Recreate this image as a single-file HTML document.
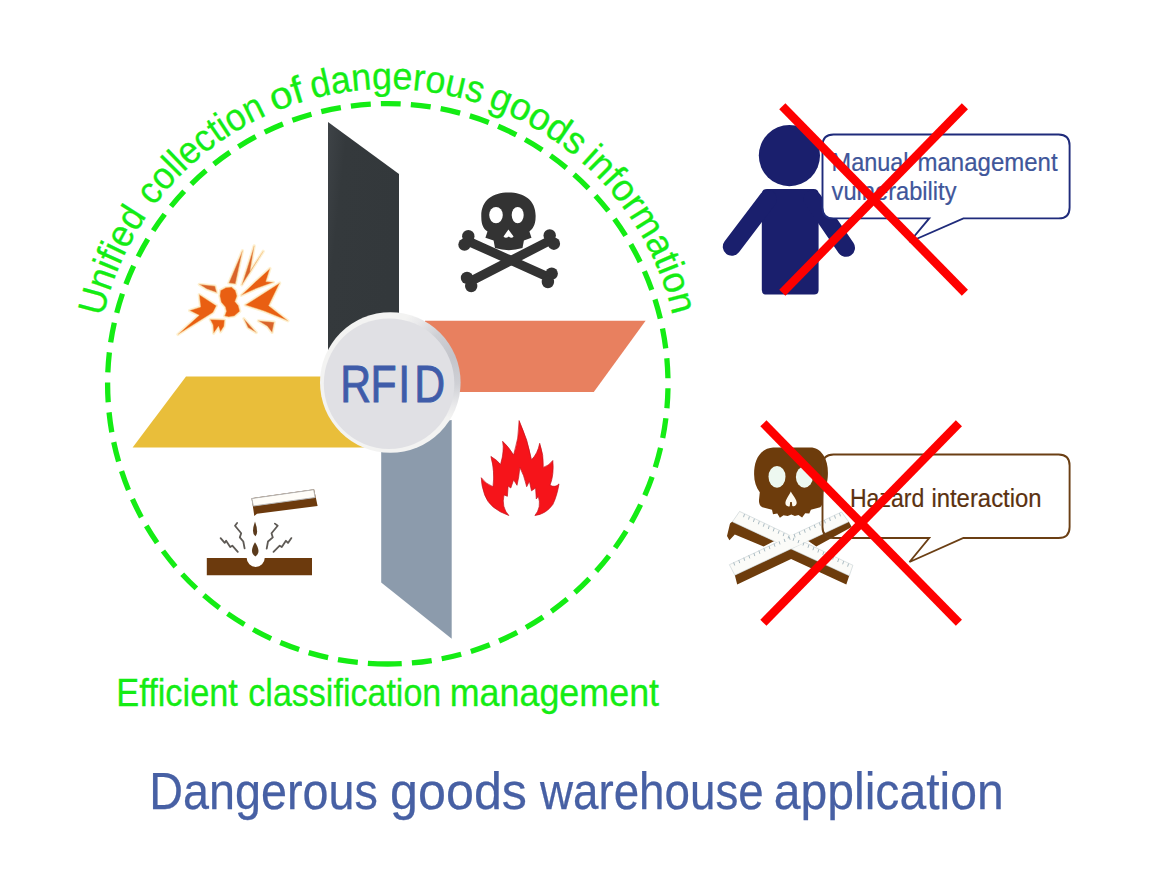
<!DOCTYPE html>
<html lang="en">
<head>
<meta charset="utf-8">
<title>Dangerous goods warehouse application</title>
<style>
html,body{margin:0;padding:0;background:#fff;}
body{width:1168px;height:872px;overflow:hidden;position:relative;font-family:"Liberation Sans",sans-serif;}
svg{position:absolute;left:0;top:0;display:block;}
text{font-family:"Liberation Sans",sans-serif;}
</style>
</head>
<body>
<svg width="1168" height="872" viewBox="0 0 1168 872">
<defs>
  <path id="arc" d="M 96.00 381.00 A 292.0 292.0 0 0 1 680.00 381.00"/>
  <radialGradient id="rf" cx="0.5" cy="0.5" r="0.5">
    <stop offset="0" stop-color="#e6e7e9"/>
    <stop offset="0.9" stop-color="#e1e2e4"/>
    <stop offset="1" stop-color="#d4d6d9"/>
  </radialGradient>
  <linearGradient id="gb" x1="0" y1="0" x2="1" y2="0.35">
    <stop offset="0" stop-color="#3e4347"/>
    <stop offset="0.25" stop-color="#34393c"/>
    <stop offset="1" stop-color="#33383b"/>
  </linearGradient>
  <radialGradient id="rim" gradientUnits="userSpaceOnUse" cx="455" cy="356" r="62">
    <stop offset="0" stop-color="#c3c4ca"/>
    <stop offset="0.45" stop-color="#cfd0d5"/>
    <stop offset="0.8" stop-color="#e9e9eb"/>
    <stop offset="1" stop-color="#f3f3f2"/>
  </radialGradient>
</defs>
<rect width="1168" height="872" fill="#fff"/>

<!-- dashed circle -->
<path id="ring" d="M 387.8 664 A 280.2 280.2 0 1 1 387.8 103.6 A 280.2 280.2 0 1 1 387.8 664" fill="none" stroke="#14ec14" stroke-width="5.3" stroke-dasharray="20 10.1"/>

<!-- blades -->
<polygon id="blade-black" points="328,122 399,174 399,345 328,350" fill="url(#gb)"/>
<polygon id="blade-orange" points="425,320.8 645.6,320.8 593.8,391.9 425,391.9" fill="#e8805f"/>
<polygon id="blade-yellow" points="186,376.5 340,376.5 370,447.6 132.6,447.6" fill="#e9be3a"/>
<polygon id="blade-grey" points="381.2,430 451.7,420 451.7,638.8 381.2,582.4" fill="#8c9bac"/>


<!-- explosion -->
<g id="explosion-glow" fill="#fdf0cf" stroke="#fdf0cf" stroke-width="3.2" stroke-linejoin="round" opacity="0.9">
  <polygon points="220.5,290.5 226.0,287.5 231.5,287.1 235.4,290.5 237.0,296.0 235.0,301.5 238.4,305.7 239.8,311.2 234.3,316.0 228.8,316.9 224.6,316.0 226.3,311.2 225.3,307.0 221.2,302.2 219.8,296.0"/>
  <polygon points="199.2,294.6 216.4,305.7 213.0,312.5 177.9,334.5 199.2,315.3 189.6,310.5 200.6,307.0"/>
  <polygon points="199.2,284.3 215.0,286.1 216.7,292.6 206.8,289.1"/>
  <polygon points="228.8,283.0 242.5,250.6 235.4,283.9"/>
  <polygon points="241.8,285.0 254.2,245.8 250.1,271.3 263.2,251.3 248.0,275.4"/>
  <polygon points="241.2,295.3 256.3,280.9 270.0,268.5 265.9,281.6 273.5,282.3 256.3,288.5"/>
  <polygon points="245.3,305.0 279.7,283.0 268.7,305.7 287.9,320.8 264.5,311.2"/>
  <polygon points="210.2,319.4 224.6,320.1 224.0,326.3 220.5,331.8 218.5,326.3 213.6,333.2 213.0,324.9"/>
  <polygon points="243.9,318.7 256.3,332.5 248.0,327.7"/>
  <polygon points="258.3,320.8 274.2,322.2 272.1,332.5 267.3,326.3"/>
</g>
<g id="explosion" fill="#e95f12" stroke="#f6c98a" stroke-width="0.5" stroke-linejoin="round">
  <polygon points="220.5,290.5 226.0,287.5 231.5,287.1 235.4,290.5 237.0,296.0 235.0,301.5 238.4,305.7 239.8,311.2 234.3,316.0 228.8,316.9 224.6,316.0 226.3,311.2 225.3,307.0 221.2,302.2 219.8,296.0"/>
  <polygon points="199.2,294.6 216.4,305.7 213.0,312.5 177.9,334.5 199.2,315.3 189.6,310.5 200.6,307.0"/>
  <polygon points="199.2,284.3 215.0,286.1 216.7,292.6 206.8,289.1" fill="#d9632a"/>
  <polygon points="228.8,283.0 242.5,250.6 235.4,283.9" fill="#d9632a"/>
  <polygon points="241.8,285.0 254.2,245.8 250.1,271.3 263.2,251.3 248.0,275.4" fill="#d9632a"/>
  <polygon points="241.2,295.3 256.3,280.9 270.0,268.5 265.9,281.6 273.5,282.3 256.3,288.5"/>
  <polygon points="245.3,305.0 279.7,283.0 268.7,305.7 287.9,320.8 264.5,311.2"/>
  <polygon points="210.2,319.4 224.6,320.1 224.0,326.3 220.5,331.8 218.5,326.3 213.6,333.2 213.0,324.9"/>
  <polygon points="243.9,318.7 256.3,332.5 248.0,327.7" fill="#d9632a"/>
  <polygon points="258.3,320.8 274.2,322.2 272.1,332.5 267.3,326.3" fill="#d9632a"/>
</g>

<!-- black skull -->
<g id="skull" fill="#333">
  <line x1="468.2" y1="241.2" x2="548.0" y2="277.0" stroke="#333" stroke-width="9.2" stroke-linecap="round"/><circle cx="468.3" cy="236.2" r="6.2" fill="#333"/><circle cx="464.5" cy="244.6" r="6.2" fill="#333"/><circle cx="551.7" cy="273.6" r="6.2" fill="#333"/><circle cx="547.9" cy="282.0" r="6.2" fill="#333"/>
  <line x1="550.0" y1="240.5" x2="470.9" y2="281.1" stroke="#333" stroke-width="9.2" stroke-linecap="round"/><circle cx="553.9" cy="243.7" r="6.2" fill="#333"/><circle cx="549.7" cy="235.5" r="6.2" fill="#333"/><circle cx="471.2" cy="286.1" r="6.2" fill="#333"/><circle cx="467.0" cy="277.9" r="6.2" fill="#333"/>
  <path d="M 481.3 217.1 C 480.6 200.6, 492.3 192.4, 508.4 192.4 C 524.6 192.4, 536.3 200.6, 535.6 217.1 C 535.6 225.4, 532.2 229.5, 529.4 231.6 L 531.5 237.8 L 523.9 240.5 L 522.5 248.1 Q 508.8 252.2 495.0 248.1 L 493.6 240.5 L 485.4 237.8 L 487.5 231.6 C 484.0 229.5, 481.3 225.4, 481.3 217.1 Z"/>
  <ellipse cx="496.0" cy="215.1" rx="6.8" ry="8.2" fill="#fff"/>
  <ellipse cx="517.7" cy="215.1" rx="6" ry="8.2" fill="#fff"/>
  <path d="M 508.4 229.5 L 513.6 236.4 Q 511.5 239.1 508.8 236.4 Q 505.7 239.1 503.5 236.4 Z" fill="#fff"/>
</g>

<!-- corrosion -->
<g id="corrosion">
  <path d="M 206.8 558 H 246.7 A 9 9 0 0 0 264.7 558 H 312 V 575.2 H 206.8 Z" fill="#6c3a0d"/>
  <polygon points="251.5,498.2 314.1,489.3 317.6,506.0 257.0,513.7 254.3,516.1 252.9,506.5" fill="#6c3a0d"/>
  <polygon points="251.8,498.5 313.7,489.7 315.2,497.5 253.3,506.0" fill="#fffdf8" stroke="#b8b8b8" stroke-width="1"/>
  <path d="M 255.0 521.6 Q 259.1 533.3 255.4 536.3 Q 250.8 533.3 255.0 521.6 Z" fill="#5a3a1c"/>
  <path d="M 255.0 542.2 Q 261.8 552.5 255.4 556.4 Q 248.8 552.5 255.0 542.2 Z" fill="#5a3a1c"/>
  <g fill="none" stroke="#5e5a55" stroke-width="1.8" stroke-linecap="round" stroke-linejoin="round">
    <polyline points="220.6,538.1 224.7,542.9 226.1,540.8 230.2,547.0 232.3,545.7 237.8,551.8"/>
    <polyline points="237.1,523.0 235.0,525.7 241.2,533.3 239.8,537.4 243.3,541.5 244.6,548.4"/>
    <polyline points="274.9,523.6 277.7,525.7 271.5,533.3 272.8,537.4 268.0,541.5 266.7,548.7"/>
    <polyline points="291.4,538.1 288.0,542.9 285.9,540.8 281.8,547.0 279.7,545.7 273.5,551.8"/>
  </g>
</g>

<!-- flame -->
<path id="flame" d="M 508.8 515.5 Q 489.5 508.7, 484.7 494.9 Q 481.3 485.3, 481.3 477.7 Q 485.4 483.9, 493.0 486.7 Q 495.0 471.5, 490.9 456.4 Q 497.8 460.5, 500.5 464.6 Q 504.6 450.9, 502.6 441.3 Q 508.8 446.8, 513.6 455.0 Q 519.1 438.5, 519.1 420.6 Q 528.0 439.9, 531.5 459.8 Q 537.7 453.6, 539.7 443.3 Q 543.9 455.0, 543.2 467.4 Q 548.7 466.0, 552.8 460.5 Q 554.2 474.3, 550.0 485.3 Q 555.5 488.0, 559.0 483.9 Q 556.9 496.3, 552.8 504.5 Q 545.9 514.2, 534.9 515.5 Q 541.8 507.3, 538.3 496.3 L 536.3 499.0 L 535.6 488.0 L 531.5 490.8 L 529.4 481.2 L 526.7 486.7 Q 523.9 474.3, 519.8 467.4 Q 519.1 477.0, 517.0 485.3 L 513.6 479.8 L 510.8 488.0 L 508.1 486.0 L 507.4 496.3 L 504.0 494.9 Q 501.2 507.3, 508.8 515.5 Z" fill="#f6141a" stroke="#c4121c" stroke-width="0.7" stroke-linejoin="round"/>

<!-- hub -->
<circle cx="390.3" cy="382.5" r="70.3" fill="url(#rim)"/>
<circle cx="389.1" cy="383.7" r="65.3" fill="#e0e0e4"/>
<text transform="translate(0,401.8) scale(0.83,1)" x="410 446.5 479.7 499.2" y="0" font-size="51.5" fill="#3f5ca9" stroke="#3f5ca9" stroke-width="0.9">RFID</text>

<!-- curved label -->
<g id="curved">
<text font-size="38" fill="#14ec14" stroke="#14ec14" stroke-width="0.3" textLength="110.6" lengthAdjust="spacingAndGlyphs"><textPath href="#arc" startOffset="64.7">Unified</textPath></text>
<text font-size="38" fill="#14ec14" stroke="#14ec14" stroke-width="0.3" textLength="146.8" lengthAdjust="spacingAndGlyphs"><textPath href="#arc" startOffset="187.0">collection</textPath></text>
<text font-size="38" fill="#14ec14" stroke="#14ec14" stroke-width="0.3" textLength="33.6" lengthAdjust="spacingAndGlyphs"><textPath href="#arc" startOffset="342.0">of</textPath></text>
<text font-size="38" fill="#14ec14" stroke="#14ec14" stroke-width="0.3" textLength="169.7" lengthAdjust="spacingAndGlyphs"><textPath href="#arc" startOffset="382.7">dangerous</textPath></text>
<text font-size="38" fill="#14ec14" stroke="#14ec14" stroke-width="0.3" textLength="101.9" lengthAdjust="spacingAndGlyphs"><textPath href="#arc" startOffset="559.6">goods</textPath></text>
<text font-size="38" fill="#14ec14" stroke="#14ec14" stroke-width="0.3" textLength="182.4" lengthAdjust="spacingAndGlyphs"><textPath href="#arc" startOffset="668.6">information</textPath></text>
</g>

<text id="t-eff" y="706" font-size="38.5" fill="#14ec14" stroke="#14ec14" stroke-width="0.3"><tspan x="116.3" textLength="121.6" lengthAdjust="spacingAndGlyphs">Efficient</tspan> <tspan x="248.3" textLength="193.0" lengthAdjust="spacingAndGlyphs">classification</tspan> <tspan x="449.7" textLength="209.4" lengthAdjust="spacingAndGlyphs">management</tspan></text>
<text id="t-title" y="809" font-size="52" fill="#4760a4" stroke="#4760a4" stroke-width="0.25"><tspan x="149.2" textLength="228.6" lengthAdjust="spacingAndGlyphs">Dangerous</tspan> <tspan x="390.1" textLength="136.9" lengthAdjust="spacingAndGlyphs">goods</tspan> <tspan x="539.9" textLength="223.9" lengthAdjust="spacingAndGlyphs">warehouse</tspan> <tspan x="773.7" textLength="230.0" lengthAdjust="spacingAndGlyphs">application</tspan></text>

<!-- person -->
<g id="person" fill="#1a1f6d">
  <circle cx="789.4" cy="155.6" r="30.6"/>
  <path d="M 767 189 H 813.5 Q 818.6 189 818.6 194 V 290 Q 818.6 294.5 814 294.5 H 766.5 Q 761.8 294.5 761.8 290 V 194 Q 761.8 189 767 189 Z"/>
  <line x1="768" y1="199" x2="731.8" y2="246.8" stroke="#1a1f6d" stroke-width="18" stroke-linecap="round"/>
  <line x1="812.5" y1="199" x2="846" y2="247.8" stroke="#1a1f6d" stroke-width="18" stroke-linecap="round"/>
</g>
<!-- bubble 1 -->
<path id="bubble1" d="M 833.5 134.5 H 1058.6 Q 1069.6 134.5 1069.6 145.5 V 207.4 Q 1069.6 218.4 1058.6 218.4 H 963.4 L 909.5 242 L 929.2 218.4 H 833.5 Q 822.5 218.4 822.5 207.4 V 145.5 Q 822.5 134.5 833.5 134.5 Z" fill="#fff" stroke="#1f2b7b" stroke-width="1.9" stroke-linejoin="miter"/>
<text id="t-b1a" y="170.8" font-size="25" fill="#40569a" stroke="#40569a" stroke-width="0.2"><tspan x="831.6" textLength="77.0" lengthAdjust="spacingAndGlyphs">Manual</tspan> <tspan x="917.5" textLength="140.1" lengthAdjust="spacingAndGlyphs">management</tspan></text>
<text id="t-b1b" y="199.6" font-size="25" fill="#40569a" stroke="#40569a" stroke-width="0.2"><tspan x="831.6" textLength="124.9" lengthAdjust="spacingAndGlyphs">vulnerability</tspan></text>
<g id="x1" stroke="#fe0000" stroke-width="8.6" stroke-linecap="butt">
  <line x1="782.3" y1="106.2" x2="964.9" y2="292.8"/>
  <line x1="964.9" y1="106.2" x2="782.3" y2="292.8"/>
</g>

<!-- brown skull -->
<g id="bskull">
  <polygon points="732.4,521.6 774.3,541.0 763.6,546.5 734.8,534.5 729.4,540.2 727.0,536.0 730.0,523.4" fill="#6d3c0c"/>
  <polygon points="734.8,574.9 791.1,548.5 849.3,575.5 846.3,584.5 791.1,559.0 737.2,584.5" fill="#6d3c0c"/>
  <polygon points="807.9,540.8 848.7,521.6 851.7,527.0 816.3,546.5" fill="#6d3c0c"/>
  <polygon points="739.6,511.4 852.9,565.3 849.3,575.8 732.4,521.8" fill="#fbfbf8" stroke="#c5cfd2" stroke-width="0.6"/>
  <polygon points="729.4,564.7 841.5,512.0 848.7,521.8 734.8,575.2" fill="#fbfbf8" stroke="#c5cfd2" stroke-width="0.6"/>
  <polygon points="774.3,541.0 791.1,533.6 807.9,541.0 791.1,548.5" fill="#fbfbf8"/>
  <g stroke="#9fb2bb" stroke-width="0.9"><line x1="744.5" y1="514.1" x2="743.5" y2="517.2"/><line x1="749.4" y1="516.5" x2="748.5" y2="519.6"/><line x1="754.4" y1="518.8" x2="753.4" y2="521.9"/><line x1="759.3" y1="521.2" x2="758.4" y2="524.3"/><line x1="764.3" y1="523.5" x2="763.3" y2="526.7"/><line x1="769.2" y1="525.9" x2="768.3" y2="529.0"/><line x1="774.2" y1="528.2" x2="773.2" y2="531.4"/><line x1="779.2" y1="530.6" x2="778.2" y2="533.7"/><line x1="784.1" y1="533.0" x2="783.2" y2="536.1"/><line x1="789.1" y1="535.3" x2="788.1" y2="538.4"/><line x1="794.0" y1="537.7" x2="793.1" y2="540.8"/><line x1="799.0" y1="540.0" x2="798.0" y2="543.1"/><line x1="804.0" y1="542.4" x2="803.0" y2="545.5"/><line x1="808.9" y1="544.7" x2="808.0" y2="547.8"/><line x1="813.9" y1="547.1" x2="812.9" y2="550.2"/><line x1="818.8" y1="549.4" x2="817.9" y2="552.5"/><line x1="823.8" y1="551.8" x2="822.8" y2="554.9"/><line x1="828.7" y1="554.1" x2="827.8" y2="557.2"/><line x1="833.7" y1="556.5" x2="832.7" y2="559.6"/><line x1="838.7" y1="558.8" x2="837.7" y2="562.0"/><line x1="843.6" y1="561.2" x2="842.7" y2="564.3"/><line x1="848.6" y1="563.5" x2="847.6" y2="566.7"/><line x1="733.7" y1="562.4" x2="734.7" y2="565.5"/><line x1="738.8" y1="560.0" x2="739.7" y2="563.1"/><line x1="743.8" y1="557.7" x2="744.7" y2="560.8"/><line x1="748.8" y1="555.3" x2="749.8" y2="558.4"/><line x1="753.9" y1="553.0" x2="754.8" y2="556.1"/><line x1="758.9" y1="550.6" x2="759.9" y2="553.8"/><line x1="763.9" y1="548.3" x2="764.9" y2="551.4"/><line x1="769.0" y1="546.0" x2="769.9" y2="549.1"/><line x1="774.0" y1="543.6" x2="775.0" y2="546.7"/><line x1="779.1" y1="541.3" x2="780.0" y2="544.4"/><line x1="784.1" y1="538.9" x2="785.1" y2="542.0"/><line x1="789.1" y1="536.6" x2="790.1" y2="539.7"/><line x1="794.2" y1="534.2" x2="795.1" y2="537.4"/><line x1="799.2" y1="531.9" x2="800.2" y2="535.0"/><line x1="804.3" y1="529.6" x2="805.2" y2="532.7"/><line x1="809.3" y1="527.2" x2="810.3" y2="530.3"/><line x1="814.3" y1="524.9" x2="815.3" y2="528.0"/><line x1="819.4" y1="522.5" x2="820.3" y2="525.6"/><line x1="824.4" y1="520.2" x2="825.4" y2="523.3"/><line x1="829.5" y1="517.8" x2="830.4" y2="521.0"/><line x1="834.5" y1="515.5" x2="835.5" y2="518.6"/><line x1="839.5" y1="513.2" x2="840.5" y2="516.3"/></g>
  <path d="M 754.1 474.2 C 754.1 463.9, 756.7 455.6, 763.9 450.4 C 768.1 447.6, 772.2 447.4, 776.3 447.4 L 810.4 447.4 C 815.5 447.4, 819.7 449.4, 823.3 455.1 C 826.9 460.8, 828.1 467.0, 827.9 474.2 C 827.7 482.4, 825.8 487.6, 823.3 492.2 L 823.0 500.0 C 822.8 504.1, 821.7 506.2, 820.2 507.2 L 810.9 509.8 L 809.3 513.6 L 805.2 513.2 L 802.1 517.5 L 798.5 514.9 L 794.9 516.0 L 791.3 514.4 L 787.7 516.0 L 783.5 515.3 L 779.9 517.7 L 777.3 513.6 L 773.0 514.2 L 772.0 509.8 L 762.4 507.2 C 759.8 506.2, 758.8 503.1, 759.0 500.0 L 759.8 492.2 C 756.2 487.6, 754.1 481.4, 754.1 474.2 Z" fill="#6d3c0c"/>
  <ellipse cx="777.0" cy="476.8" rx="8.5" ry="10.9" fill="#edf8f0"/>
  <ellipse cx="804.4" cy="477.1" rx="8.5" ry="10.6" fill="#edf8f0"/>
  <path d="M 790.8 491.5 C 793.3 495.9, 797.0 500.0, 796.7 503.1 C 796.5 505.7, 794.4 506.7, 792.3 506.0 L 791.8 502.0 L 790.2 502.0 L 789.7 506.2 C 787.7 507.0, 785.4 505.7, 785.4 503.1 C 785.4 500.0, 788.7 495.9, 790.8 491.5 Z" fill="#fdfaf0"/>
</g>
<!-- bubble 2 -->
<path id="bubble2" d="M 833.5 454.5 H 1058.6 Q 1069.6 454.5 1069.6 465.5 V 527 Q 1069.6 538 1058.6 538 H 963.4 L 909.5 562 L 929.2 538 H 833.5 Q 822.5 538 822.5 527 V 465.5 Q 822.5 454.5 833.5 454.5 Z" fill="none" stroke="#6b3f14" stroke-width="1.9" stroke-linejoin="miter"/>
<text id="t-b2" y="506.7" font-size="25" fill="#5b3210" stroke="#5b3210" stroke-width="0.2"><tspan x="850.0" textLength="74.2" lengthAdjust="spacingAndGlyphs">Hazard</tspan> <tspan x="931.4" textLength="110.2" lengthAdjust="spacingAndGlyphs">interaction</tspan></text>
<g id="x2" stroke="#fe0000" stroke-width="8.6" stroke-linecap="butt">
  <line x1="763.4" y1="423.3" x2="958.9" y2="622.8"/>
  <line x1="958.9" y1="423.3" x2="763.4" y2="622.8"/>
</g>

</svg>
</body>
</html>
